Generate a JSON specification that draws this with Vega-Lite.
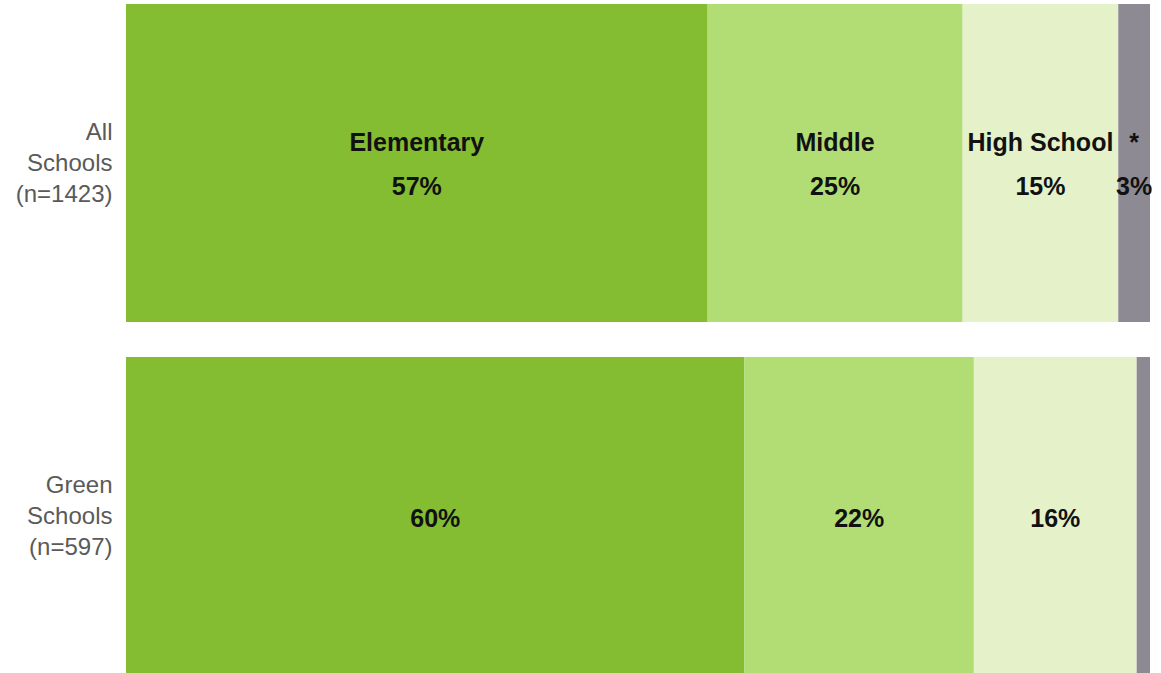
{
  "$schema": "https://vega.github.io/schema/vega-lite/v6.json",
  "width": 1024,
  "height": 671,
  "autosize": {"type": "none"},
  "padding": {"left": 126, "top": 4, "right": 11, "bottom": 0},
  "background": "white",
  "config": {"view": {"stroke": null}, "font": "Liberation Sans"},
  "data": {
    "values": [
      {"group": "All|Schools|(n=1423)", "level": "Elementary", "idx": 1, "value": 56.8, "label": "Elementary\n57%"},
      {"group": "All|Schools|(n=1423)", "level": "Middle", "idx": 2, "value": 24.9, "label": "Middle\n25%"},
      {"group": "All|Schools|(n=1423)", "level": "High School", "idx": 3, "value": 15.2, "label": "High School\n15%"},
      {"group": "All|Schools|(n=1423)", "level": "Other", "idx": 4, "value": 3.1, "label": "*\n3%"},
      {"group": "Green|Schools|(n=597)", "level": "Elementary", "idx": 1, "value": 60.4, "label": "60%"},
      {"group": "Green|Schools|(n=597)", "level": "Middle", "idx": 2, "value": 22.4, "label": "22%"},
      {"group": "Green|Schools|(n=597)", "level": "High School", "idx": 3, "value": 15.9, "label": "16%"},
      {"group": "Green|Schools|(n=597)", "level": "Other", "idx": 4, "value": 1.3, "label": ""}
    ]
  },
  "transform": [
    {"stack": "value", "groupby": ["group"], "sort": [{"field": "idx", "order": "ascending"}], "as": ["x0", "x1"]},
    {"calculate": "(datum.x0 + datum.x1) / 2", "as": "mid"}
  ],
  "encoding": {
    "y": {
      "field": "group",
      "type": "nominal",
      "sort": null,
      "scale": {"paddingInner": 0.0992, "paddingOuter": 0},
      "axis": {
        "title": null,
        "domain": false,
        "ticks": false,
        "labelExpr": "split(datum.label, '|')",
        "labelFontSize": 24,
        "labelLineHeight": 31,
        "labelOffset": -30,
        "labelColor": "#5a5a5a",
        "labelPadding": 14,
        "labelFont": "Liberation Sans"
      }
    }
  },
  "layer": [
    {
      "mark": {"type": "bar"},
      "encoding": {
        "x": {"field": "x0", "type": "quantitative", "scale": {"domain": [0, 100], "nice": false}, "axis": null},
        "x2": {"field": "x1"},
        "color": {
          "field": "level",
          "type": "nominal",
          "scale": {
            "domain": ["Elementary", "Middle", "High School", "Other"],
            "range": ["#84bc32", "#b2dc74", "#e4f1c9", "#8e8a93"]
          },
          "legend": null
        }
      }
    },
    {
      "transform": [{"filter": "indexof(datum.group, 'All') == 0"}],
      "mark": {"type": "text", "fontSize": 25, "fontWeight": "bold", "color": "#111111", "lineBreak": "\n", "lineHeight": 44, "baseline": "middle", "align": "center", "font": "Liberation Sans", "dy": -20},
      "encoding": {
        "x": {"field": "mid", "type": "quantitative"},
        "text": {"field": "label"}
      }
    },
    {
      "transform": [{"filter": "indexof(datum.group, 'Green') == 0"}],
      "mark": {"type": "text", "fontSize": 25, "fontWeight": "bold", "color": "#111111", "baseline": "middle", "align": "center", "font": "Liberation Sans", "dy": 3},
      "encoding": {
        "x": {"field": "mid", "type": "quantitative"},
        "text": {"field": "label"}
      }
    }
  ]
}
